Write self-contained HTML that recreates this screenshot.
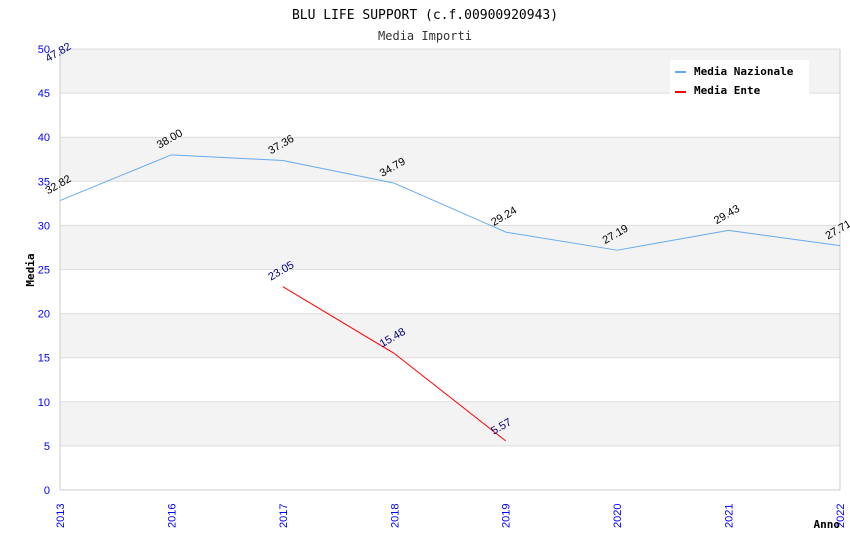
<!DOCTYPE html>
<html><head><meta charset="utf-8"><style>
body{margin:0;background:#fff}
svg{display:block}
</style></head><body>
<svg id="chart" width="850" height="550" xmlns="http://www.w3.org/2000/svg">
<text x="425" y="19" text-anchor="middle" font-family="DejaVu Sans Mono, monospace" font-size="13">BLU LIFE SUPPORT (c.f.00900920943)</text>
<text x="425" y="40" text-anchor="middle" font-family="DejaVu Sans Mono, monospace" font-size="12" fill="#333">Media Importi</text>
<g id="bands"></g>
<g id="grid"></g>
<g id="axes"></g>
<g id="series"></g>
<text x="34" y="270" transform="rotate(-90 34 270)" text-anchor="middle" font-family="DejaVu Sans Mono, monospace" font-size="11" font-weight="bold">Media</text>
<text x="840" y="528" text-anchor="end" font-family="DejaVu Sans Mono, monospace" font-size="11" font-weight="bold">Anno</text>
<g>
<rect x="670" y="60" width="139" height="34" fill="#fff"/>
<g><line x1="675" y1="72" x2="686" y2="72" stroke="#66aaee" stroke-width="2"/><text x="694" y="75" font-family="DejaVu Sans Mono, monospace" font-size="11" font-weight="bold">Media Nazionale</text></g>
<g><line x1="675" y1="92" x2="686" y2="92" stroke="#ff0000" stroke-width="2"/><text x="694" y="94" font-family="DejaVu Sans Mono, monospace" font-size="11" font-weight="bold">Media Ente</text></g>
</g>
</svg>
<script>
const categories = ["2013","2016","2017","2018","2019","2020","2021","2022"];
const nazionale = [32.82,38.00,37.36,34.79,29.24,27.19,29.43,27.71];
const ente = [47.82,null,23.05,15.48,5.57,null,null,null];
const yTicks = [0,5,10,15,20,25,30,35,40,45,50];
const NS="http://www.w3.org/2000/svg";
const L=60,R=840,T=49,B=490,YMAX=50;
const xs=i=>L+i*(R-L)/(categories.length-1);
const ys=v=>B-v/YMAX*(B-T);
function mk(tag,attrs,parent,text){const e=document.createElementNS(NS,tag);for(const k in attrs)e.setAttribute(k,attrs[k]);if(text!==undefined)e.textContent=text;document.getElementById(parent).appendChild(e);return e;}
for(let i=0;i<yTicks.length-1;i++){
  const r=mk('rect',{x:L,y:ys(yTicks[i+1]),width:R-L,height:ys(yTicks[i])-ys(yTicks[i+1]),fill:(i%2===1)?'#f3f3f3':'#fff'},'bands');
  
  
}
yTicks.forEach(v=>{
  const l=mk('line',{x1:L,x2:R,y1:ys(v),y2:ys(v),stroke:'#dddddd'},'grid');
  
  
  const t=mk('text',{x:L-10,y:ys(v)+4,'text-anchor':'end','font-family':'Liberation Sans, sans-serif','font-size':11,fill:'#0000ff'},'axes',String(v));
  
  
});
mk('line',{x1:L,x2:L,y1:T,y2:B,stroke:'#ccc'},'axes');
mk('line',{x1:R,x2:R,y1:T,y2:B,stroke:'#ccc'},'axes');
mk('line',{x1:L,x2:R,y1:B,y2:B,stroke:'#ccc'},'axes');
categories.forEach((c,i)=>{
  const x=xs(i)+4,y=B+38;
  const t=mk('text',{x:x,y:y,transform:`rotate(-90 ${x} ${y})`,'font-family':'Liberation Sans, sans-serif','font-size':11,fill:'#0000ff'},'axes',c);
  
  
});
function drawSeries(data,color,labelColor,name){
  for(let i=0;i<data.length-1;i++){
    if(data[i]!==null&&data[i+1]!==null){
      const l=mk('line',{x1:xs(i),y1:ys(data[i]),x2:xs(i+1),y2:ys(data[i+1]),stroke:color,'stroke-width':1},'series');
      
      
    }
  }
  data.forEach((v,i)=>{
    if(v===null)return;
    let x=xs(i)-12,y=ys(v)-6;
    if(y<T+4)y=T+12;
    const t=mk('text',{x:x,y:y,transform:`rotate(-30 ${x} ${y})`,'font-family':'Liberation Sans, sans-serif','font-size':11,fill:labelColor},'series',v.toFixed(2));
    
    
  });
}
drawSeries(nazionale,'#66aaee','#000','nazionale');
drawSeries(ente,'#ff0000','#000080','ente');
</script>
</body></html>
